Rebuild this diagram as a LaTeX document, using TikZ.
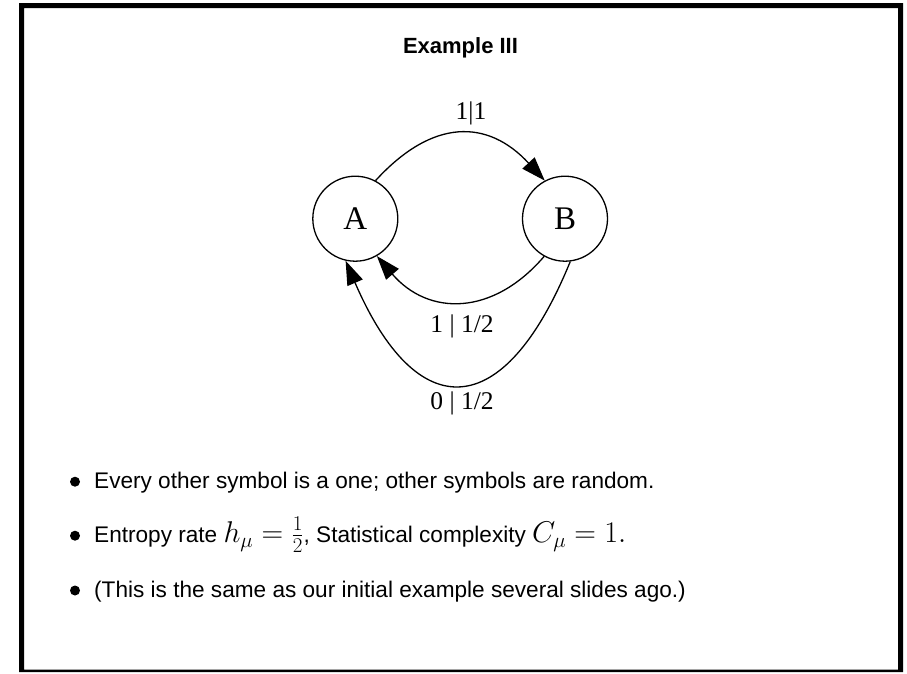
\documentclass[tikz,border=0pt]{standalone}
\usepackage{fix-cm}
\usepackage[no-math]{fontspec}
\newfontfamily\hvfont{Liberation Sans}
\newfontfamily\tmsfont{Liberation Serif}
\usetikzlibrary{arrows.meta}
\newcommand{\bigmath}[1]{{\fontsize{30}{33}\selectfont$#1$}}
\begin{document}
\begin{tikzpicture}[x=1pt,y=-1pt,
  state/.style={circle,draw,line width=1.3pt,minimum size=85pt,inner sep=0pt,font=\tmsfont\fontsize{33}{36}\selectfont},
  edgelbl/.style={font=\tmsfont\fontsize{25.5}{28}\selectfont,inner sep=0pt,anchor=base},
  arr/.style={line width=1.3pt,-{Triangle[length=24pt,width=16.5pt]}},
  bodytext/.style={font=\hvfont\fontsize{22.6}{26}\selectfont,inner sep=0pt,anchor=base west},
  bulletdot/.style={circle,fill,inner sep=0pt,minimum size=10pt}]
\useasboundingbox (0,0) rectangle (907,673);
\fill[white] (0,0) rectangle (907,673);
% frame
\fill[black,even odd rule] (19,3) rectangle (903,672) (24,8) rectangle (898,669.5);
% title
\node[font=\hvfont\bfseries\fontsize{22}{25}\selectfont,inner sep=0pt,anchor=base] (title) at (460.5,53) {Example III};
% states
\node[state] (A) at (355.3,218.7) {A};
\node[state] (B) at (565,218.7) {B};
% edges
\draw[arr] (A.62) .. controls +(57,-62.5) and +(-57,-61.7) .. (B.118);
\draw[arr] (B.-119) .. controls +(-51.4,60) and +(51.4,60) .. (A.-60);
\draw[arr] (B.-83) .. controls +(-67,164) and +(70.7,164) .. (A.-103);
% edge labels
\node[edgelbl] (l1) at (471,119) {1|1};
\node[edgelbl] (l2) at (462,332.5) {1 | 1/2};
\node[edgelbl] (l3) at (462,409) {0 | 1/2};
% bullets
\node[bulletdot] (b1) at (75,481.7) {};
\node[bulletdot] (b2) at (75,535.7) {};
\node[bulletdot] (b3) at (75,590.5) {};
\node[bodytext] (t1) at (94,488) {Every other symbol is a one; other symbols are random.};
\node[bodytext] (t2) at (94,542.5) {Entropy rate \bigmath{h_\mu=\frac{1}{2}}, Statistical complexity \bigmath{C_\mu=1.}};
\node[bodytext] (t3) at (94,597.5) {(This is the same as our initial example several slides ago.)};
\end{tikzpicture}
\end{document}
